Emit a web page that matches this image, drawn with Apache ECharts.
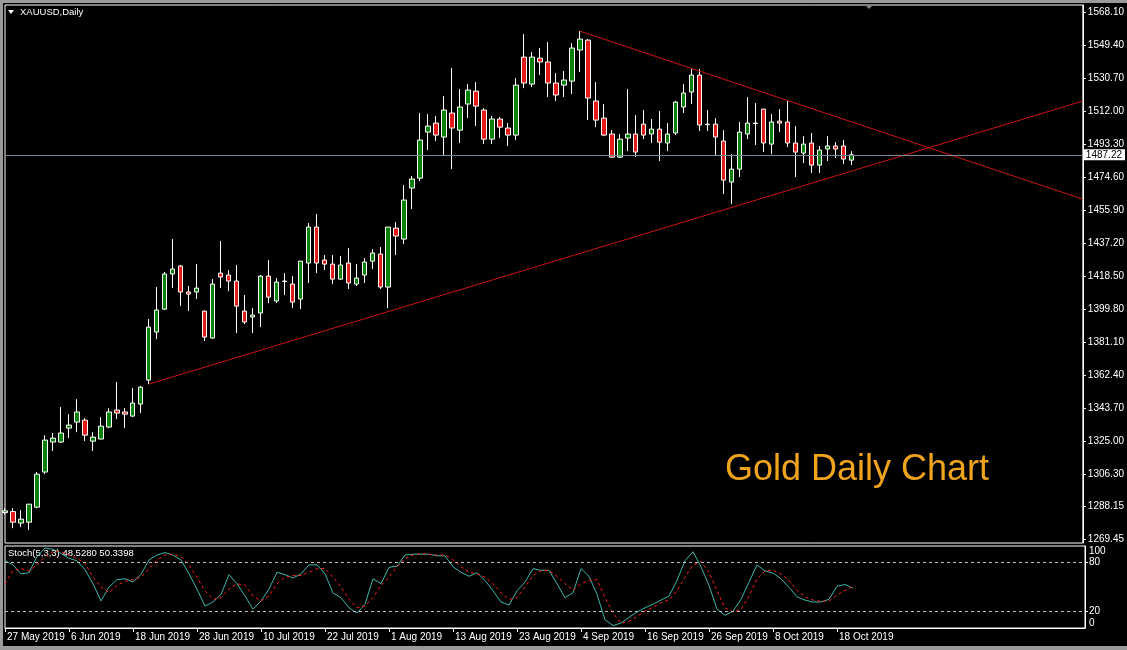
<!DOCTYPE html>
<html><head><meta charset="utf-8">
<script src="https://cdn.jsdelivr.net/npm/echarts@6/dist/echarts.min.js"></script>
<style>html,body{margin:0;padding:0;background:#000;}#c{width:1127px;height:650px;}</style>
</head><body><div id="c"></div>
<script>
const dates = ['27 May 2019','28 May 2019','29 May 2019','30 May 2019','31 May 2019',
'3 Jun 2019','4 Jun 2019','5 Jun 2019','6 Jun 2019','7 Jun 2019',
'10 Jun 2019','11 Jun 2019','12 Jun 2019','13 Jun 2019','14 Jun 2019',
'17 Jun 2019','18 Jun 2019','19 Jun 2019','20 Jun 2019','21 Jun 2019',
'24 Jun 2019','25 Jun 2019','26 Jun 2019','27 Jun 2019','28 Jun 2019',
'1 Jul 2019','2 Jul 2019','3 Jul 2019','4 Jul 2019','5 Jul 2019',
'8 Jul 2019','9 Jul 2019','10 Jul 2019','11 Jul 2019','12 Jul 2019',
'15 Jul 2019','16 Jul 2019','17 Jul 2019','18 Jul 2019','19 Jul 2019',
'22 Jul 2019','23 Jul 2019','24 Jul 2019','25 Jul 2019','26 Jul 2019',
'29 Jul 2019','30 Jul 2019','31 Jul 2019','1 Aug 2019','2 Aug 2019',
'5 Aug 2019','6 Aug 2019','7 Aug 2019','8 Aug 2019','9 Aug 2019',
'12 Aug 2019','13 Aug 2019','14 Aug 2019','15 Aug 2019','16 Aug 2019',
'19 Aug 2019','20 Aug 2019','21 Aug 2019','22 Aug 2019','23 Aug 2019',
'26 Aug 2019','27 Aug 2019','28 Aug 2019','29 Aug 2019','30 Aug 2019',
'2 Sep 2019','3 Sep 2019','4 Sep 2019','5 Sep 2019','6 Sep 2019',
'9 Sep 2019','10 Sep 2019','11 Sep 2019','12 Sep 2019','13 Sep 2019',
'16 Sep 2019','17 Sep 2019','18 Sep 2019','19 Sep 2019','20 Sep 2019',
'23 Sep 2019','24 Sep 2019','25 Sep 2019','26 Sep 2019','27 Sep 2019',
'30 Sep 2019','1 Oct 2019','2 Oct 2019','3 Oct 2019','4 Oct 2019',
'7 Oct 2019','8 Oct 2019','9 Oct 2019','10 Oct 2019','11 Oct 2019',
'14 Oct 2019','15 Oct 2019','16 Oct 2019','17 Oct 2019','18 Oct 2019',
'21 Oct 2019','22 Oct 2019'];
const futureSlots = 29;

const opens = [1284.5,1285.1,1278.6,1279.1,1287.6,1307.5,1324.5,1324.5,1332.4,1335.8,
1336.9,1325.0,1326.2,1333.0,1342.6,1341.5,1339.2,1346.0,1359.6,1386.8,
1399.8,1419.7,1424.2,1409.5,1409.5,1398.7,1383.4,1420.2,1419.1,1415.7,
1398.7,1395.3,1397.6,1418.5,1404.4,1415.7,1414.0,1405.5,1425.9,1446.3,
1427.6,1425.3,1416.8,1425.9,1414.0,1419.1,1427.0,1431.0,1412.3,1445.7,
1439.5,1468.4,1474.0,1500.1,1505.2,1497.3,1510.9,1501.2,1516.0,1523.3,
1512.6,1496.1,1507.5,1502.4,1498.4,1542.6,1527.3,1542.0,1539.8,1527.9,
1526.7,1529.0,1546.6,1552.2,1517.7,1508.0,1499.0,1485.9,1496.7,1499.0,
1504.6,1499.0,1501.8,1493.9,1499.6,1514.3,1522.8,1532.4,1504.6,1504.6,
1495.0,1471.8,1479.1,1499.0,1505.2,1513.1,1493.3,1506.3,1505.8,1493.9,
1488.2,1493.9,1481.4,1490.5,1492.2,1492.2,1484.2];
const highs = [1287.0,1287.1,1285.9,1289.3,1307.5,1328.4,1329.6,1344.3,1340.3,1348.8,
1338.1,1330.1,1338.6,1343.7,1358.5,1343.7,1355.1,1356.2,1394.2,1412.3,
1420.8,1439.5,1424.8,1412.9,1425.3,1398.9,1416.8,1438.4,1421.9,1424.8,
1407.8,1400.4,1419.1,1427.6,1417.4,1420.2,1418.5,1427.0,1448.6,1453.7,
1430.4,1430.4,1429.9,1434.4,1425.3,1428.7,1433.8,1435.0,1446.3,1449.1,
1470.1,1475.2,1510.9,1510.3,1509.2,1520.5,1536.4,1524.5,1527.3,1528.4,
1513.7,1509.2,1508.6,1505.2,1530.7,1555.6,1545.4,1547.7,1551.1,1533.5,
1534.7,1550.5,1557.3,1552.8,1528.4,1516.0,1501.2,1499.0,1524.5,1509.7,
1512.6,1507.5,1512.0,1505.2,1517.7,1527.3,1535.8,1535.8,1512.6,1508.0,
1501.2,1487.6,1505.8,1519.9,1516.5,1513.3,1510.3,1513.1,1517.7,1503.5,
1497.8,1499.6,1492.2,1497.8,1494.4,1495.6,1489.3];
const lows = [1283.5,1275.7,1276.3,1274.6,1287.0,1306.3,1319.4,1324.0,1326.7,1330.1,
1325.0,1319.4,1326.0,1332.4,1337.5,1332.4,1338.6,1340.9,1357.3,1382.8,
1399.3,1411.7,1401.5,1398.7,1405.5,1381.7,1383.0,1411.7,1410.0,1386.2,
1391.3,1386.2,1389.6,1403.2,1403.2,1407.8,1400.4,1399.8,1414.6,1420.2,
1421.9,1414.0,1416.3,1411.2,1412.9,1414.6,1422.5,1411.2,1400.4,1430.4,
1436.7,1456.5,1472.3,1489.9,1495.0,1487.1,1479.1,1493.9,1508.0,1503.5,
1493.3,1493.3,1496.7,1492.2,1495.6,1525.0,1525.6,1532.4,1519.9,1517.7,
1519.9,1521.6,1534.1,1506.9,1502.9,1497.8,1485.4,1485.4,1489.3,1485.9,
1496.1,1493.9,1483.7,1489.3,1498.4,1510.9,1516.0,1500.7,1500.7,1487.1,
1465.0,1459.3,1474.6,1496.1,1492.7,1488.8,1487.6,1500.1,1491.6,1474.6,
1482.5,1476.9,1476.9,1483.7,1485.4,1482.0,1481.4];
const closes = [1285.5,1279.1,1280.8,1289.3,1306.3,1325.6,1326.7,1329.6,1334.1,1341.5,
1328.4,1327.3,1333.5,1341.5,1340.9,1340.3,1346.6,1355.6,1389.6,1399.3,
1419.7,1422.5,1409.5,1408.3,1411.7,1384.0,1414.0,1418.0,1415.7,1401.5,
1392.5,1396.4,1418.5,1406.6,1415.1,1415.5,1403.8,1427.0,1446.3,1425.9,
1425.3,1416.8,1424.8,1414.6,1417.4,1426.5,1431.6,1412.3,1446.3,1441.2,
1461.6,1473.5,1495.6,1503.5,1498.4,1512.6,1502.4,1514.3,1523.9,1514.8,
1496.1,1507.5,1502.9,1498.4,1526.7,1527.9,1542.6,1539.8,1527.9,1521.1,
1529.6,1547.7,1552.8,1519.4,1506.9,1498.4,1485.9,1496.1,1499.0,1488.8,
1498.4,1501.8,1494.4,1499.0,1517.1,1522.2,1532.4,1504.1,1504.3,1497.3,
1472.9,1479.1,1500.1,1505.2,1505.0,1493.9,1505.8,1505.2,1493.9,1488.8,
1493.3,1481.4,1489.9,1492.2,1490.5,1484.8,1487.22];

const stochK = [82,77,66,67.5,87,97.5,96,91,85,82,71,54,33,50,59,60,56,65.4,83,89,
92,89,83,66,47.5,26.7,31.7,41,65,54,39,23,33,47.5,68,65,61,66,77,77,
66,42.5,37,24.6,18.3,29,60,54,74,75.4,89,90,90,90,88,88,74.6,68,63,67.5,
58,45.4,31.7,28,45.4,56,72.5,70.4,70.4,54,37,43,72.5,63,41,10,3,6,13,19.6,
24.6,29,34,39,58,82,93,74.6,52,23,15.4,20.4,35,56,77,69.6,67,60,49.6,38,
34,31.7,31.7,35,51,53,48.528];
const stochD = [54,70,72.5,69.6,77,87,93,93,89,85,79,62,50,43,52,57,59,62,72.5,83,
89,90,87,77,62,45.4,35,37,47.5,54,52,39,33,39,54,62,64,64,68,72.5,
72.5,62,50,35,24.6,26.7,37,52,62,74.6,85,89,91,90,89,89,83,74.6,68,66,
62,54,43,35,37,50,64,70,70,63,54,46,54,58,59,37,18.3,6,8,14,
20.4,25.4,31,34,45.4,62,77,81,68,45.4,24.6,19.6,22.5,39,60,69.6,70.4,66,58,46,
38,34,32.5,33,40,46,50.34];

const priceTicks = [1568.10,1549.40,1530.70,1512.00,1493.30,1474.60,1455.90,1437.20,1418.50,1399.80,1381.10,1362.40,1343.70,1325.00,1306.30,1288.15,1269.45];
const stochTicks = [100,80,20,0];
const stochLevels = [80,20];
const lastPrice = 1487.22;
const supportLine = [[18,1357.3],[135,1517.7]];
const resistLine = [[72,1557.3],[135,1462.1]];

const cats = dates.concat(Array.from({length: futureSlots}, (_, i) => ' '.repeat(i + 1)));
const candles = opens.map((o, i) => [o, closes[i], lows[i], highs[i]]);
function lineData(pts) {
  const arr = cats.map(() => '-');
  pts.forEach(p => { arr[p[0]] = p[1]; });
  return arr;
}
const labelEvery = 8;
const showIdx = (i) => i % labelEvery === 0 && i < dates.length;

const FONT = 'Liberation Sans';
const chart = echarts.init(document.getElementById('c'), null, {renderer: 'canvas'});
chart.setOption({
  backgroundColor: '#000',
  animation: false,
  grid: [
    {left: 5, right: 42, top: 5, height: 538, show: true, borderColor: '#fff', borderWidth: 1, backgroundColor: 'transparent'},
    {left: 5, right: 42, top: 546, height: 82, show: true, borderColor: '#fff', borderWidth: 1, backgroundColor: 'transparent'}
  ],
  xAxis: [
    {type: 'category', gridIndex: 0, data: cats, boundaryGap: false,
     axisLine: {show: false}, axisTick: {show: false}, axisLabel: {show: false}, splitLine: {show: false}},
    {type: 'category', gridIndex: 1, data: cats, boundaryGap: false,
     axisLine: {show: true, lineStyle: {color: '#fff', width: 1}},
     axisTick: {show: true, length: 4, interval: (i) => showIdx(i), lineStyle: {color: '#fff'}},
     axisLabel: {show: true, interval: (i) => showIdx(i), color: '#fff', fontSize: 10, fontFamily: FONT, align: 'left', margin: 4, padding: [0, 0, 0, 2]},
     splitLine: {show: false}}
  ],
  yAxis: [
    {type: 'value', gridIndex: 0, position: 'right', min: 1267.3, max: 1572.1, scale: true,
     axisLine: {show: true, lineStyle: {color: '#fff'}},
     axisTick: {show: true, length: 3, customValues: priceTicks, lineStyle: {color: '#fff'}},
     axisLabel: {show: true, customValues: priceTicks, formatter: (v) => v.toFixed(2), color: '#fff', fontSize: 10, fontFamily: FONT, margin: 5},
     splitLine: {show: false}},
    {type: 'value', gridIndex: 1, position: 'right', min: 0, max: 100,
     axisLine: {show: true, lineStyle: {color: '#fff'}},
     axisTick: {show: true, length: 3, customValues: stochLevels, lineStyle: {color: '#fff'}},
     axisLabel: {show: true, customValues: stochTicks, formatter: (v) => String(v), color: '#fff', fontSize: 10, fontFamily: FONT, margin: 4,
       verticalAlignMaxLabel: 'bottom', verticalAlignMinLabel: 'top'},
     splitLine: {show: false}}
  ],
  series: [
    {type: 'candlestick', xAxisIndex: 0, yAxisIndex: 0, data: candles, barWidth: 5,
     itemStyle: {color: '#0a7f0a', color0: '#e31a1a', borderColor: '#fff', borderColor0: '#fff', borderWidth: 1},
     markLine: {silent: true, symbol: 'none', animation: false,
       lineStyle: {color: '#778899', type: 'solid', width: 1},
       label: {show: true, position: 'end', formatter: lastPrice.toFixed(2), color: '#000', backgroundColor: '#fff', padding: [1, 3, 0, 2], fontSize: 10, fontFamily: FONT, distance: 1},
       emphasis: {disabled: true},
       data: [{yAxis: lastPrice}]}},
    {type: 'line', xAxisIndex: 0, yAxisIndex: 0, data: lineData(supportLine), connectNulls: true, symbol: 'none',
     lineStyle: {color: '#c81414', width: 1}, silent: true},
    {type: 'line', xAxisIndex: 0, yAxisIndex: 0, data: lineData(resistLine), connectNulls: true, symbol: 'none',
     lineStyle: {color: '#c81414', width: 1}, silent: true},
    {type: 'line', xAxisIndex: 1, yAxisIndex: 1, data: stochK, symbol: 'none',
     lineStyle: {color: '#3fb5ab', width: 1}, silent: true,
     markLine: {silent: true, symbol: 'none', label: {show: false}, emphasis: {disabled: true},
       lineStyle: {color: '#c0c0c0', type: [3, 3], width: 1},
       data: stochLevels.map(v => ({yAxis: v}))}},
    {type: 'line', xAxisIndex: 1, yAxisIndex: 1, data: stochD, symbol: 'none',
     lineStyle: {color: '#ff2020', width: 1, type: [3, 3]}, silent: true}
  ],
  graphic: [
    {type: 'rect', left: 0, top: 0, shape: {width: 1127, height: 3}, style: {fill: '#9a9a9a'}, silent: true},
    {type: 'rect', left: 0, top: 0, shape: {width: 3, height: 650}, style: {fill: '#9a9a9a'}, silent: true},
    {type: 'rect', left: 0, top: 646, shape: {width: 1127, height: 4}, style: {fill: '#9a9a9a'}, silent: true},
    {type: 'polygon', shape: {points: [[8, 10], [14, 10], [11, 14]]}, style: {fill: '#fff'}, silent: true},
    {type: 'text', left: 20, top: 7, style: {text: 'XAUUSD,Daily', fill: '#fff', font: '9.5px "Liberation Sans"'}, silent: true},
    {type: 'polygon', shape: {points: [[865, 5], [873, 5], [869, 9]]}, style: {fill: '#808080'}, silent: true},
    {type: 'text', left: 8, top: 548, style: {text: 'Stoch(5,3,3) 48.5280 50.3398', fill: '#fff', font: '9.5px "Liberation Sans"'}, silent: true},
    {type: 'text', left: 725, top: 452, style: {text: 'Gold Daily Chart', fill: '#f0a41e', font: '36px "Liberation Sans"'}, silent: true}
  ]
});
</script></body></html>
